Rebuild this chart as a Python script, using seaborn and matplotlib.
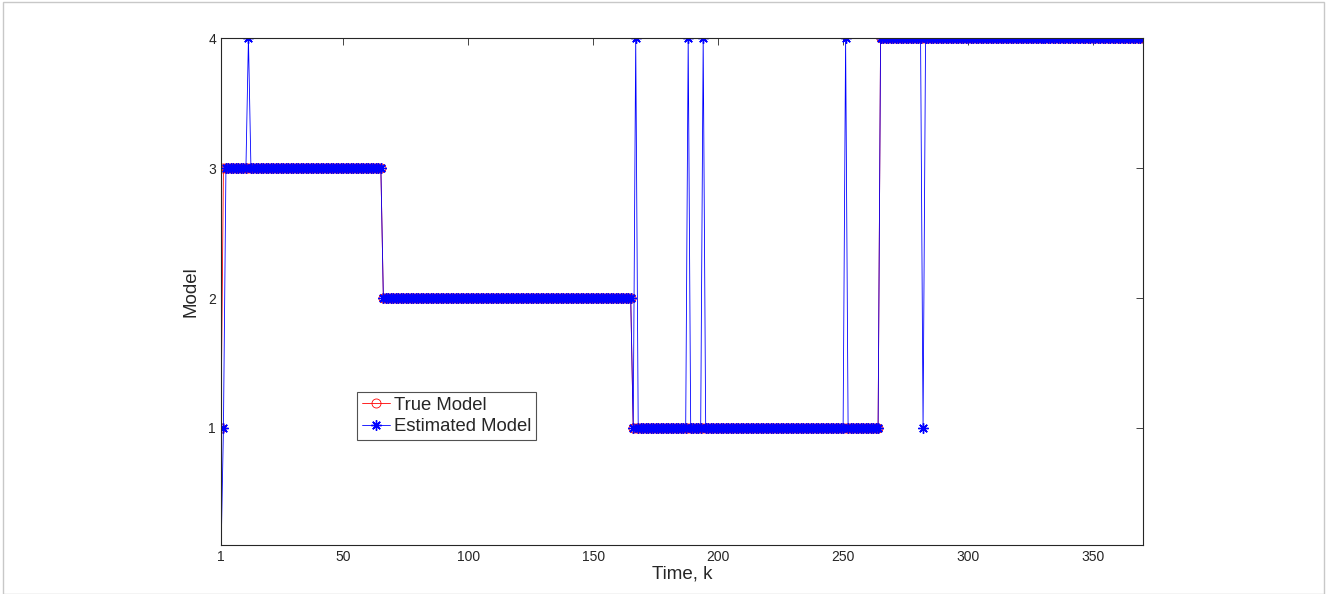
import numpy as np
import pandas as pd
import matplotlib
matplotlib.use("Agg")
import matplotlib.pyplot as plt
import seaborn as sns

# waktu k = 1..370
k = np.arange(1, 371)

# segmen model sebenarnya: (nilai, k_awal, k_akhir)
true_segments = [(1, 1, 1), (3, 2, 65), (2, 66, 165), (1, 166, 264), (4, 265, 370)]
# segmen model estimasi
est_segments = [(0, 1, 1), (1, 2, 2), (3, 3, 65), (2, 66, 165), (1, 166, 264), (4, 265, 370)]
# lonjakan estimasi yang salah: (k, nilai)
est_spikes = [(12, 4), (167, 4), (188, 4), (194, 4), (251, 4), (282, 1)]

xticks = [1, 50, 100, 150, 200, 250, 300, 350]
yticks = [1, 2, 3, 4]


def build(segments):
    vals = np.zeros(len(k))
    for v, a, b in segments:
        vals[(k >= a) & (k <= b)] = v
    return vals


true_model = build(true_segments)
est_model = build(est_segments)
for kk, v in est_spikes:
    est_model[kk - 1] = v

df = pd.DataFrame({"k": k, "true": true_model, "est": est_model})

sns.set_style("white")
plt.rcParams["font.family"] = ["Liberation Sans", "DejaVu Sans"]

fig = plt.figure(figsize=(13.27, 5.94), dpi=100)
ax = fig.add_axes([0.1665, 0.0825, 0.6948, 0.8535])

sns.lineplot(data=df, x="k", y="true", ax=ax, color="red", linewidth=0.6,
             marker="o", markersize=6.5, markerfacecolor="none",
             markeredgecolor="red", markeredgewidth=0.6, label="True Model")
sns.lineplot(data=df, x="k", y="est", ax=ax, color="blue", linewidth=0.6,
             marker=(8, 2, 0), markersize=7.5, markerfacecolor="blue",
             markeredgecolor="blue", markeredgewidth=1.0, label="Estimated Model")

ax.set_xlim(1, 370)
ax.set_ylim(0.1, 4)
ax.set_xticks(xticks)
ax.set_yticks(yticks)
ax.tick_params(direction="in", length=5, width=0.6, labelsize=10,
               top=True, right=True, colors="#262626")
for s in ax.spines.values():
    s.set_visible(True)
    s.set_color("#262626")
    s.set_linewidth(0.8)

ax.set_xlabel("Time, k", fontsize=13.5, labelpad=1)
ax.set_ylabel("Model", fontsize=13.5, labelpad=6)

leg = ax.legend(loc="upper left", bbox_to_anchor=(0.148, 0.302), fontsize=13.3,
                frameon=True, fancybox=False, borderpad=0.25, handlelength=1.5,
                handletextpad=0.25, labelspacing=0.25, borderaxespad=0)
leg.get_frame().set_edgecolor("#262626")
leg.get_frame().set_linewidth(0.8)

# bingkai abu-abu di tepi gambar
fig.patches.append(plt.Rectangle((0.002, 0.0), 0.996, 0.997, transform=fig.transFigure,
                                 fill=False, edgecolor="#c8c8c8", linewidth=1))

fig.savefig("out.png", dpi=100)
